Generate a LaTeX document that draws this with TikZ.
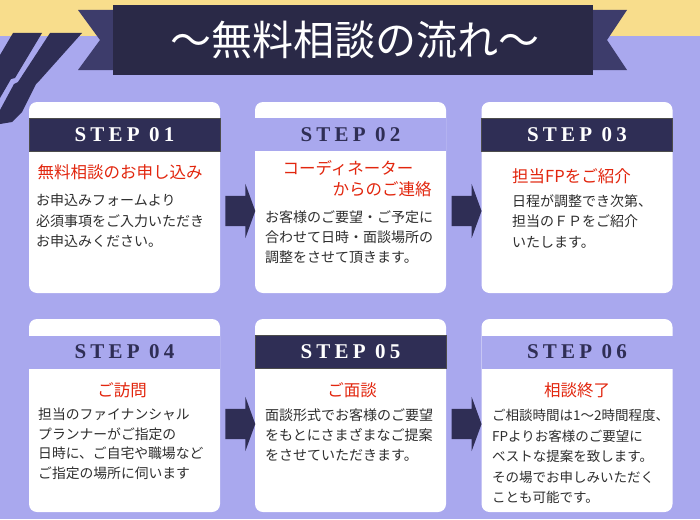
\documentclass[tikz,border=0pt]{standalone}
\usepackage{fontspec}
\usepackage{xcolor}
\usepackage{tikz}
\usetikzlibrary{shapes.arrows,calc}
\setmainfont{Liberation Serif}
\newfontfamily\jpfont{Noto Sans CJK JP}
\newfontfamily\stepfont[LetterSpace=20]{Liberation Serif}
\definecolor{flowlilac}{HTML}{A9A8EE}
\definecolor{flowyellow}{HTML}{F8DD8C}
\definecolor{flownavy}{HTML}{2F2E55}
\definecolor{flowink}{HTML}{2A2947}
\definecolor{flowtail}{HTML}{3D3C6B}
\definecolor{flowred}{HTML}{E2260E}
\definecolor{flowtext}{HTML}{2E2E2E}

\begin{document}
\begin{tikzpicture}[x=1pt,y=-1pt,
        card/.style={rectangle,rounded corners=8pt,fill=white,minimum width=191pt,
                     minimum height=191pt,inner sep=0pt},
        darkhead/.style={rectangle,fill=flownavy,draw=black!70,line width=0.6pt,
                     minimum width=191pt,minimum height=33pt,inner sep=0pt,text=white,
                     font=\stepfont\bfseries\fontsize{21}{21}\selectfont},
        lighthead/.style={darkhead,fill=flowlilac,draw=none,text=flownavy},
        headline/.style={text=flowred,inner sep=0pt,font=\jpfont\fontsize{16.5}{20}\selectfont},
        body/.style={anchor=north west,align=left,inner sep=0pt,text=flowtext,
                     font=\jpfont\fontsize{14}{20.5}\selectfont},
        flow/.style={single arrow,fill=flownavy,minimum height=30pt,inner xsep=0pt,
                     inner ysep=15pt,single arrow head extend=12pt,single arrow tip angle=140}]
      \useasboundingbox (0,0) rectangle (700,519);
      \fill[flowlilac] (0,0) rectangle (700,519);
      \fill[flowyellow] (0,0) rectangle (700,36);
      \fill[flownavy] (0,55) -- (13,33) -- (42,33) -- (15,78) -- (11,79) -- (0,98) -- cycle;
      \fill[flownavy] (50,33) -- (82,33) -- (40,80) -- (36,84) -- (22,112) -- (12,122)
                      -- (0,124) -- (0,110) -- (14,84) -- (18,82) -- cycle;
      \fill[flowtail] (78,10) -- (113,10) -- (113,70) -- (78,70) -- (100,40) -- cycle;
      \fill[flowtail] (593,10) -- (627,10) -- (607,40) -- (627,70) -- (593,70) -- cycle;
      \fill[flowink] (113,5) rectangle (593,75);
      \node[text=white,font=\jpfont\fontsize{41}{41}\selectfont] (title) at(355,40){〜無料相談の流れ〜};
      \node[card] (s1) at(124.5,197.5){};
      \node[card] (s2) at(350.5,197.5){};
      \node[card] (s3) at(577,197.5){};
      \node[card,minimum height=193pt] (s4) at(124.5,415.5){};
      \node[card,minimum height=193pt] (s5) at(350.5,415.5){};
      \node[card,minimum height=193pt] (s6) at(577,415.5){};
      \node[darkhead]  (h1) at(124.5,134.5){STEP 01\hspace{14pt}};
      \node[lighthead] (h2) at(350.5,134.5){STEP 02};
      \node[darkhead]  (h3) at(577,134.5){STEP 03};
      \node[lighthead] (h4) at(124.5,352){STEP 04\hspace{12pt}};
      \node[darkhead]  (h5) at(350.5,352){STEP 05};
      \node[lighthead] (h6) at(577,352){STEP 06};
      \node[headline] (t1) at(120,172){無料相談のお申し込み};
      \node[headline] (t2a) at(348,168){コーディネーター};
      \node[headline] (t2b) at(382,189){からのご連絡};
      \node[headline,anchor=west] (t3) at(512,176){担当FPをご紹介};
      \node[headline] (t4) at(122,390){ご訪問};
      \node[headline] (t5) at(352,390){ご面談};
      \node[headline] (t6) at(577,390){相談終了};
      \node[body] (b1) at(36,194){お申込みフォームより\\必須事項をご入力いただき\\お申込みください。};
      \node[body,font=\jpfont\fontsize{14}{20}\selectfont] (b2) at(265,210){お客様のご要望・ご予定に\\合わせて日時・面談場所の\\調整をさせて頂きます。};
      \node[body] (b3) at(512,194){日程が調整でき次第、\\担当のＦＰをご紹介\\いたします。};
      \node[body,font=\jpfont\fontsize{13.8}{19.5}\selectfont] (b4) at(38,408){担当のファイナンシャル\\プランナーがご指定の\\日時に、ご自宅や職場など\\ご指定の場所に伺います};
      \node[body,font=\jpfont\fontsize{14}{20}\selectfont] (b5) at(265,408){面談形式でお客様のご要望\\をもとにさまざまなご提案\\をさせていただきます。};
      \node[body,font=\jpfont\fontsize{13.5}{20.5}\selectfont] (b6) at(492,409){ご相談時間は1〜2時間程度、\\FPよりお客様のご要望に\\ベストな提案を致します。\\その場でお申しみいただく\\ことも可能です。};
      \node[flow] (a1) at($(s1.east)!0.5!(s2.west)+(0,13.5)$){};
      \node[flow] (a2) at($(s2.east)!0.5!(s3.west)+(0,13.5)$){};
      \node[flow] (a4) at($(s4.east)!0.5!(s5.west)+(0,8.5)$){};
      \node[flow] (a5) at($(s5.east)!0.5!(s6.west)+(0,8.5)$){};
    \end{tikzpicture}
\end{document}
